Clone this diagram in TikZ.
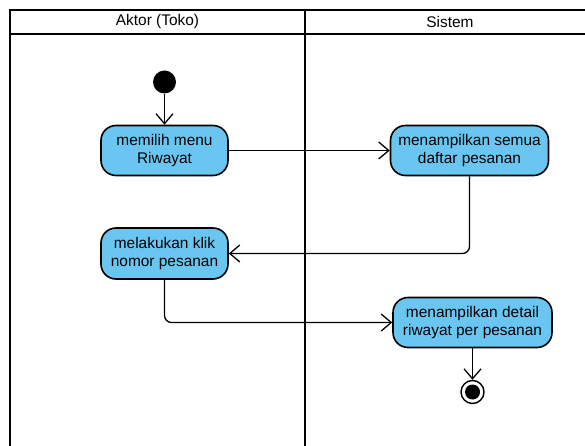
\documentclass[tikz,border=0pt]{standalone}
\usepackage{fontspec}
\setmainfont{Liberation Sans}
\usetikzlibrary{arrows.meta}
\definecolor{actfill}{RGB}{106,198,240}
\begin{document}
\begin{tikzpicture}[x=1bp,y=-1bp,
  lane/.style={draw=black, line width=2.4bp},
  act/.style={draw=black, line width=1.6bp, fill=actfill, rounded corners=15bp,
    align=center, inner sep=0pt, font=\fontsize{15.5}{19}\selectfont},
  flow/.style={draw=black, line width=1.3bp, rounded corners=7bp,
    -{Straight Barb[length=10bp,width=17bp,line width=1.3bp]}},
  hdr/.style={font=\fontsize{15.5}{19}\selectfont, inner sep=0pt}
]
\useasboundingbox (0,0) rectangle (585,446);
\fill[white] (0,0) rectangle (585,446);

% swimlane frame
\begin{scope}
  \clip (0,0) rectangle (585,446);
  \draw[lane] (10,10) rectangle (596,470);
  \draw[lane] (10,34) -- (596,34);
  \draw[lane] (305,10) -- (305,470);
\end{scope}
\node[hdr] (h1) at (157.5,22) {Aktor (Toko)};
\node[hdr] (h2) at (450,22) {Sistem};

% activities
\node[circle, fill=black, minimum size=23bp, inner sep=0pt] (start) at (164.5,82) {};
\node[act, minimum width=127bp, minimum height=50bp] (a1) at (164.5,150.5) {memilih menu\\Riwayat};
\node[act, minimum width=158bp, minimum height=50bp] (a2) at (469.5,150.5) {menampilkan semua\\daftar pesanan};
\node[act, minimum width=127bp, minimum height=51bp] (a3) at (164.5,253.5) {melakukan klik\\nomor pesanan};
\node[act, minimum width=159bp, minimum height=50bp] (a4) at (472.5,322.5) {menampilkan detail\\riwayat per pesanan};
\node[circle, draw=black, line width=1.4bp, fill=white, minimum size=23bp, inner sep=0pt] (end) at (472.5,392) {};
\fill[black] (end.center) circle (7.5bp);

% control flow
\draw[flow] (start) -- (a1.north);
\draw[flow] (a1.east) -- (a2.west);
\draw[flow] (a2.south) |- (a3.east);
\draw[flow] (a3.south) |- (a4.west);
\draw[flow] (a4.south) -- (end.north);
\end{tikzpicture}
\end{document}
